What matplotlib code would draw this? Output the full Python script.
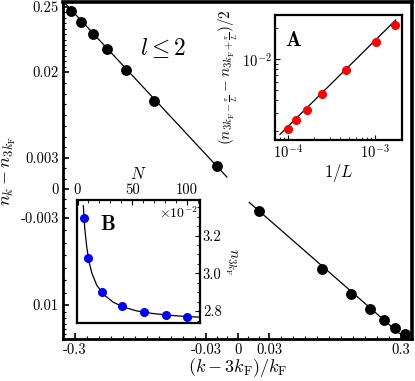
import numpy as np
import matplotlib
matplotlib.use("Agg")
import matplotlib.pyplot as plt
from matplotlib.ticker import FixedLocator, NullFormatter, AutoMinorLocator

plt.rcParams["font.family"] = "serif"
plt.rcParams["font.serif"] = ["cmr10"]
plt.rcParams["mathtext.fontset"] = "cm"
plt.rcParams["axes.unicode_minus"] = False

# main panel, k < 3kF branch (upper left) and k > 3kF branch (lower right)
x_left = [-0.322, -0.270, -0.220, -0.172, -0.1235, -0.0748, -0.0203]
y_left = [0.214, 0.141, 0.0865, 0.0483, 0.0216, 0.0106, 0.00225]
fit_left_x = [-0.364, -0.0105]
fit_left_y = [0.304, 0.00116]

x_right = [0.0203, 0.0756, 0.1244, 0.1734, 0.2228, 0.2715, 0.322]
y_right = [-0.00228, -0.00605, -0.00859, -0.01062, -0.01231, -0.0137, -0.0150]
fit_right_x = [0.01076, 0.2912]
fit_right_y = [-0.00138, -0.0148]

main_yticks = [0.25, 0.02, 0.003, 0, -0.003, -0.01]
main_ylabels = ["0.25", "0.02", "0.003", "0", "-0.003", "0.01"]
main_xticks = [-0.3, -0.03, 0, 0.03, 0.3]
main_xlabels = ["-0.3", "-0.03", "0", "0.03", "0.3"]

# inset A
inv_L = [1.0e-4, 1.24e-4, 1.64e-4, 2.44e-4, 4.6e-4, 1.03e-3, 1.70e-3]
dn = [2.09e-3, 2.54e-3, 3.22e-3, 4.54e-3, 7.82e-3, 1.47e-2, 2.12e-2]
fitA_x = [8.09e-5, 1.73e-3]
fitA_y = [1.86e-3, 2.39e-2]

# inset B (n_3kF in units of 1e-2)
N = [6, 10, 22, 41, 61, 81, 100]
n3kF = [3.294, 3.083, 2.903, 2.827, 2.795, 2.779, 2.769]
fitB_N = [5.3, 6.6, 8.4, 10.5, 13.2, 17.5, 23.6, 32.7, 41.8, 54.1, 69.2, 84.5, 99.7, 111.9]
fitB_n = [3.358, 3.238, 3.141, 3.061, 3.0, 2.938, 2.889, 2.847, 2.822, 2.801, 2.787, 2.778, 2.771, 2.768]


# y scale of the main panel: log in |y| outside +-0.003, linear inside,
# with the decades stretched to where the original put its ticks
S_knots = [-10, -1.523, -1, 0, 1, 1.824, 2.921, 10]
U_knots = [-1525.7, -116, -29, 0, 31, 117, 182, 601.4]


def y_forward(y):
    y = np.asarray(y, float)
    a = np.abs(y)
    s = np.where(a > 0.003, np.sign(y) * (np.log10(np.maximum(a, 1e-12) / 0.003) + 1), y / 0.003)
    return np.interp(s, S_knots, U_knots)


def y_inverse(u):
    s = np.interp(np.asarray(u, float), U_knots, S_knots)
    return np.where(np.abs(s) > 1, np.sign(s) * 0.003 * 10 ** (np.abs(s) - 1), s * 0.003)


fig = plt.figure(figsize=(4.15, 3.81), dpi=100)
ax = fig.add_axes([0.1518, 0.1102, 0.8410, 0.8845])
ax.set_xscale("symlog", linthresh=0.03, linscale=0.2156)
ax.set_yscale("function", functions=(y_forward, y_inverse))

ax.plot(fit_left_x, fit_left_y, color="black", lw=0.9, zorder=2)
ax.plot(fit_right_x, fit_right_y, color="black", lw=0.9, zorder=2)
ax.plot(x_left, y_left, "o", color="black", ms=6.8, zorder=3)
ax.plot(x_right, y_right, "o", color="black", ms=6.8, zorder=3)

ax.set_xlim(-0.370, 0.364)
ax.set_ylim(-0.0160, 0.304)
ax.yaxis.set_major_locator(FixedLocator(main_yticks))
ax.set_yticklabels(main_ylabels)
ax.xaxis.set_major_locator(FixedLocator(main_xticks))
ax.set_xticklabels(main_xlabels)

dec = np.logspace(np.log10(0.03), np.log10(0.3), 12)[1:-1]
ax.xaxis.set_minor_locator(FixedLocator(np.concatenate([-dec, dec, [-0.02, -0.01, 0.01, 0.02]])))
ypos = np.concatenate([np.logspace(np.log10(0.003), np.log10(0.02), 9)[1:-1],
                       np.logspace(np.log10(0.02), np.log10(0.25), 13)[1:-1], [0.001, 0.002]])
yneg = np.concatenate([np.logspace(np.log10(0.003), np.log10(0.01), 8)[1:-1], [0.011, 0.012, 0.013, 0.014, 0.015, 0.001, 0.002]])
ax.yaxis.set_minor_locator(FixedLocator(np.concatenate([ypos, -yneg])))
ax.yaxis.set_minor_formatter(NullFormatter())
ax.xaxis.set_minor_formatter(NullFormatter())

ax.tick_params(which="both", direction="in", labelsize=10.5, pad=3)
ax.tick_params(which="major", length=4, width=1.2)
ax.tick_params(which="minor", length=2, width=0.8)
for side in ["left", "bottom"]:
    ax.spines[side].set_linewidth(2.0)
for side in ["top", "right"]:
    ax.spines[side].set_linewidth(2.6)

ax.set_xlabel(r"$(k-3k_{\mathrm{F}})/k_{\mathrm{F}}$", fontsize=13, labelpad=-1)
ax.set_ylabel(r"$n_k - n_{3k_{\mathrm{F}}}$", fontsize=13, labelpad=2)
ax.text(0.2865, 0.8635, r"$l \leq 2$", transform=ax.transAxes, fontsize=17,
        ha="center", va="center")

# inset A
axA = fig.add_axes([0.6627, 0.6325, 0.3060, 0.3281])
axA.loglog(fitA_x, fitA_y, color="black", lw=0.9, zorder=2)
axA.plot(inv_L, dn, "o", color="red", ms=5.5, zorder=3)
axA.set_xlim(7.1e-5, 2.04e-3)
axA.set_ylim(0.00164, 0.0267)
axA.xaxis.set_major_locator(FixedLocator([1e-4, 1e-3]))
axA.set_xticklabels([r"$10^{-4}$", r"$10^{-3}$"])
axA.yaxis.set_major_locator(FixedLocator([1e-2]))
axA.set_yticklabels([r"$10^{-2}$"])
axA.xaxis.set_minor_formatter(NullFormatter())
axA.yaxis.set_minor_formatter(NullFormatter())
axA.tick_params(which="both", direction="in", labelsize=10.5, pad=2)
axA.tick_params(which="major", length=3.5)
axA.tick_params(which="minor", length=2)
for sp in axA.spines.values():
    sp.set_linewidth(1.6)
axA.set_xlabel(r"$1/L$", fontsize=12, labelpad=1)
axA.set_ylabel(r"$(n_{3k_{\mathrm{F}}-\frac{\pi}{L}} - n_{3k_{\mathrm{F}}+\frac{\pi}{L}})/2$",
               fontsize=11, labelpad=2)
axA.text(0.142, 0.80, r"$\mathbf{A}$", transform=axA.transAxes, fontsize=15,
         ha="center", va="center")

# inset B
axB = fig.add_axes([0.1855, 0.1522, 0.2964, 0.3228])
axB.plot(fitB_N, fitB_n, color="black", lw=0.9, zorder=2)
axB.plot(N, n3kF, "o", color="blue", ms=5.5, zorder=3)
axB.set_xlim(-0.5, 112)
axB.set_ylim(2.737, 3.388)
axB.xaxis.tick_top()
axB.xaxis.set_label_position("top")
axB.yaxis.tick_right()
axB.yaxis.set_label_position("right")
axB.set_xticks([0, 50, 100])
axB.set_xticklabels(["0", "50", "100"])
axB.set_yticks([2.8, 3.0, 3.2])
axB.set_yticklabels(["2.8", "3.0", "3.2"])
axB.xaxis.set_minor_locator(AutoMinorLocator(5))
axB.yaxis.set_minor_locator(AutoMinorLocator(4))
axB.tick_params(which="both", direction="in", labelsize=10.5, pad=2)
axB.tick_params(which="major", length=3.5)
axB.tick_params(which="minor", length=2)
for sp in axB.spines.values():
    sp.set_linewidth(1.6)
axB.set_xlabel(r"$N$", fontsize=12, labelpad=3)
axB.set_ylabel(r"$n_{3k_{\mathrm{F}}}$", fontsize=11, rotation=270, labelpad=12)
axB.text(0.984, 0.894, r"$\times10^{-2}$", transform=axB.transAxes, fontsize=10,
         ha="right", va="center")
axB.text(0.254, 0.797, r"$\mathbf{B}$", transform=axB.transAxes, fontsize=15,
         ha="center", va="center")

fig.savefig("out.png", dpi=100)
